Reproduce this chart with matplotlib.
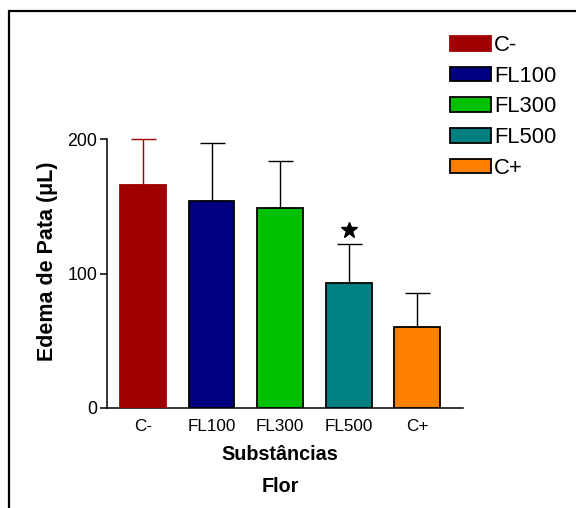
import matplotlib.pyplot as plt
from matplotlib.patches import Rectangle, Patch

plt.rcParams['font.family'] = ['Liberation Sans', 'DejaVu Sans']

groups = ['C-', 'FL100', 'FL300', 'FL500', 'C+']
means = [165.5, 153.6, 148.4, 93.0, 60.0]
errs = [34.5, 43.2, 35.0, 29.3, 25.4]
colors = ['#a00000', '#000080', '#00c000', '#008080', '#ff8000']
edges = ['#a00000', 'black', 'black', 'black', 'black']
signif = [False, False, False, True, False]

fig = plt.figure(figsize=(5.76, 5.08), dpi=100)
ax = fig.add_axes([107/576, 1-408/508, 356/576, 269/508])

x = range(len(groups))
for i in x:
    ax.bar(i, means[i], width=0.67, color=colors[i], edgecolor=edges[i],
           linewidth=1.3, zorder=3)
    ax.errorbar(i, means[i], yerr=[[0], [errs[i]]], fmt='none',
                ecolor=edges[i], elinewidth=1.0, capsize=9, capthick=1.0,
                zorder=2, clip_on=False)
    if signif[i]:
        ax.plot(i, means[i] + errs[i] + 10, marker='*', color='black',
                markersize=12, clip_on=False, zorder=4)

ax.set_xlim(-0.525, 4.67)
ax.set_ylim(0, 200)
ax.set_yticks([0, 100, 200])
ax.set_xticks(list(x))
ax.set_xticklabels(groups, fontsize=12.3)
ax.tick_params(axis='x', length=0, pad=8)
ax.tick_params(axis='y', length=5, width=1.1, labelsize=12.8, pad=2)
for s in ['top', 'right']:
    ax.spines[s].set_visible(False)
for s in ['left', 'bottom']:
    ax.spines[s].set_linewidth(1.1)
ax.set_ylabel('Edema de Pata (\u03bcL)', fontsize=15.5, fontweight='bold')
ax.yaxis.set_label_coords(-0.137, 0.545)

fig.text(280/576, 1-454/508, 'Substâncias', ha='center', va='center',
         fontsize=14.2, fontweight='bold')
fig.text(280/576, 1-486/508, 'Flor', ha='center', va='center',
         fontsize=14.2, fontweight='bold')

handles = [Patch(facecolor=colors[i], edgecolor=edges[i], linewidth=1.3)
           for i in x]
fig.legend(handles, groups, loc='upper left', bbox_to_anchor=(450/576, 1-35/508),
           frameon=False, fontsize=15.8, borderpad=0, borderaxespad=0,
           handlelength=1.85, handleheight=0.64, handletextpad=0.15,
           labelspacing=0.44)

fig.patches.append(Rectangle((8.5/576, -0.1), 1.5, 1-11/508+0.1,
                             transform=fig.transFigure, fill=False,
                             edgecolor='black', linewidth=1.6))

plt.savefig('out.png', dpi=100)
